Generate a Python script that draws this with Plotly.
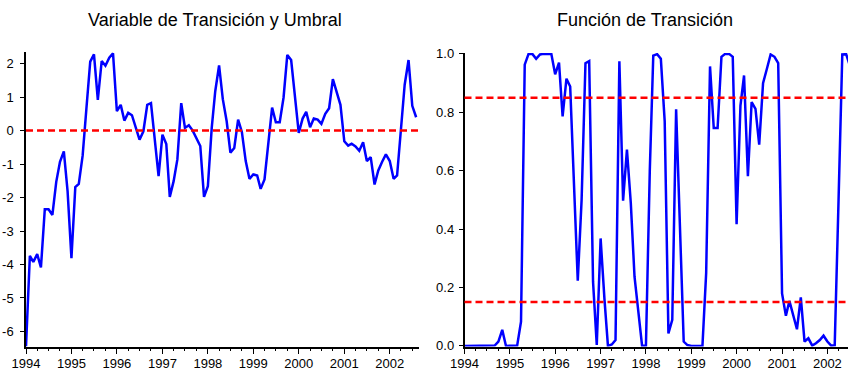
import pandas as pd
import plotly.graph_objects as go

# ---------------- data ----------------
fechas = pd.date_range("1994-01-01", periods=104, freq="MS")

variable_transicion = [
    -6.45, -3.74, -3.92, -3.69, -4.09, -2.35, -2.35, -2.52, -1.53, -0.93,
    -0.62, -1.81, -3.81, -1.69, -1.59, -0.75, 0.65, 2.06, 2.28, 0.92,
    2.08, 1.94, 2.18, 2.31, 0.58, 0.77, 0.30, 0.53, 0.46, 0.08,
    -0.27, -0.02, 0.77, 0.82, -0.22, -1.36, -0.12, -0.40, -1.98, -1.51,
    -0.86, 0.82, 0.08, 0.16, 0.00, -0.24, -0.46, -1.98, -1.66, 0.08,
    1.17, 1.95, 0.94, 0.28, -0.66, -0.52, 0.33, -0.04, -0.91, -1.44,
    -1.31, -1.34, -1.74, -1.46, -0.32, 0.69, 0.25, 0.25, 0.99, 2.26,
    2.11, 1.07, -0.07, 0.36, 0.56, 0.10, 0.36, 0.33, 0.20, 0.50,
    0.67, 1.54, 1.17, 0.77, -0.32, -0.45, -0.39, -0.47, -0.60, -0.35,
    -0.91, -0.79, -1.61, -1.19, -0.93, -0.71, -0.91, -1.44, -1.34, 0.00,
    1.37, 2.11, 0.74, 0.40,
]

funcion_transicion = [
    0.0, 0.0, 0.0, 0.0, 0.0, 0.0, 0.0, 0.0, 0.001, 0.015,
    0.055, 0.0, 0.0, 0.0, 0.001, 0.083, 0.963, 1.0, 1.0, 0.983,
    0.998, 1.0, 1.0, 1.0, 0.93, 0.97, 0.786, 0.915, 0.888, 0.58,
    0.223, 0.50, 0.968, 0.975, 0.22, 0.003, 0.368, 0.16, 0.0, 0.005,
    0.02, 0.975, 0.497, 0.672, 0.49, 0.237, 0.11, 0.0, 0.001, 0.60,
    0.994, 0.999, 0.983, 0.77, 0.043, 0.089, 0.81, 0.44, 0.015, 0.003,
    0.0, 0.0, 0.0, 0.0, 0.25, 0.957, 0.746, 0.746, 0.99, 1.0,
    1.0, 0.99, 0.417, 0.823, 0.926, 0.581, 0.835, 0.812, 0.689, 0.90,
    0.949, 0.998, 0.99, 0.968, 0.18, 0.103, 0.154, 0.106, 0.057, 0.166,
    0.015, 0.026, 0.001, 0.009, 0.02, 0.035, 0.015, 0.001, 0.002, 0.50,
    0.998, 0.999, 0.96,
]

umbral = 0.0
limites_funcion = [0.15, 0.85]

titulo_izq = "Variable de Transición y Umbral"
titulo_der = "Función de Transición"

y1_ticks = [-6, -5, -4, -3, -2, -1, 0, 1, 2]
y1_text = ["-6", "-5", "-4", "-3", "-2", "-1", "0", "1", "2"]
y2_ticks = [0.0, 0.2, 0.4, 0.6, 0.8, 1.0]
y2_text = ["0.0", "0.2", "0.4", "0.6", "0.8", "1.0"]

# ---------------- figure ----------------
W, H = 848, 374
FONT = "Liberation Sans, Arial, sans-serif"
BLUE = "#0000FF"
RED = "#FF0000"


def fx(p):
    return p / W


def fy(p):
    return (H - p) / H


fig = go.Figure()
fig.add_trace(go.Scatter(
    x=fechas, y=variable_transicion, xaxis="x", yaxis="y", mode="lines",
    line=dict(color=BLUE, width=2.5), showlegend=False))
fig.add_trace(go.Scatter(
    x=fechas[:len(funcion_transicion)], y=funcion_transicion, xaxis="x2", yaxis="y2",
    mode="lines", line=dict(color=BLUE, width=2.5), showlegend=False))

common_x = dict(
    type="date", tickmode="linear", tick0="1994-01-01", dtick="M12", tickformat="%Y",
    ticks="outside", ticklen=6, tickwidth=1, tickcolor="black",
    showline=True, linecolor="black", linewidth=1.5, showgrid=False, zeroline=False,
    automargin=False, ticklabelstandoff=-2,
    tickfont=dict(family=FONT, size=13, color="black"),
    minor=dict(ticks="outside", ticklen=3, tickwidth=1, tickcolor="black",
               dtick="M3", tick0="1994-01-01", showgrid=False),
)
common_y = dict(
    ticks="outside", ticklen=4, tickwidth=1, tickcolor="black",
    showline=True, linecolor="black", linewidth=1.5, showgrid=False, zeroline=False,
    automargin=False,
    tickfont=dict(family=FONT, size=13, color="black"),
)

fig.update_layout(
    width=W, height=H,
    margin=dict(l=0, r=0, t=0, b=0, autoexpand=False),
    paper_bgcolor="white", plot_bgcolor="white",
    showlegend=False,
    xaxis=dict(domain=[fx(26), fx(419)], anchor="y",
               range=["1994-01-01", "2002-08-24"], **common_x),
    yaxis=dict(domain=[fy(346.5), fy(52.3)], anchor="x",
               range=[-6.45, 2.34], tickmode="array", tickvals=y1_ticks,
               ticktext=y1_text, ticklabelstandoff=4, **common_y),
    xaxis2=dict(domain=[fx(464.5), fx(848)], anchor="y2",
                range=["1994-01-01", "2002-06-16"], **common_x),
    yaxis2=dict(domain=[fy(346.5), fy(53.0)], anchor="x2",
                range=[-0.002, 1.003], tickmode="array", tickvals=y2_ticks,
                ticktext=y2_text, ticklabelstandoff=2, **common_y),
    shapes=[
        dict(type="line", xref="x domain", x0=0, x1=1, yref="y", y0=umbral, y1=umbral,
             line=dict(color=RED, width=2.5, dash="7px,4px")),
    ] + [
        dict(type="line", xref="x2 domain", x0=0, x1=1, yref="y2", y0=v, y1=v,
             line=dict(color=RED, width=2.5, dash="7px,4px"))
        for v in limites_funcion
    ],
    annotations=[
        dict(text=titulo_izq, x=fx(215), y=fy(20), xref="paper", yref="paper",
             xanchor="center", yanchor="middle", showarrow=False,
             font=dict(family=FONT, size=18, color="black")),
        dict(text=titulo_der, x=fx(645), y=fy(20), xref="paper", yref="paper",
             xanchor="center", yanchor="middle", showarrow=False,
             font=dict(family=FONT, size=18, color="black")),
    ],
)

fig.write_html(
    "out.html",
    config={"displayModeBar": False},
    post_script="document.body.style.margin='0px';document.body.style.overflow='hidden';",
)
